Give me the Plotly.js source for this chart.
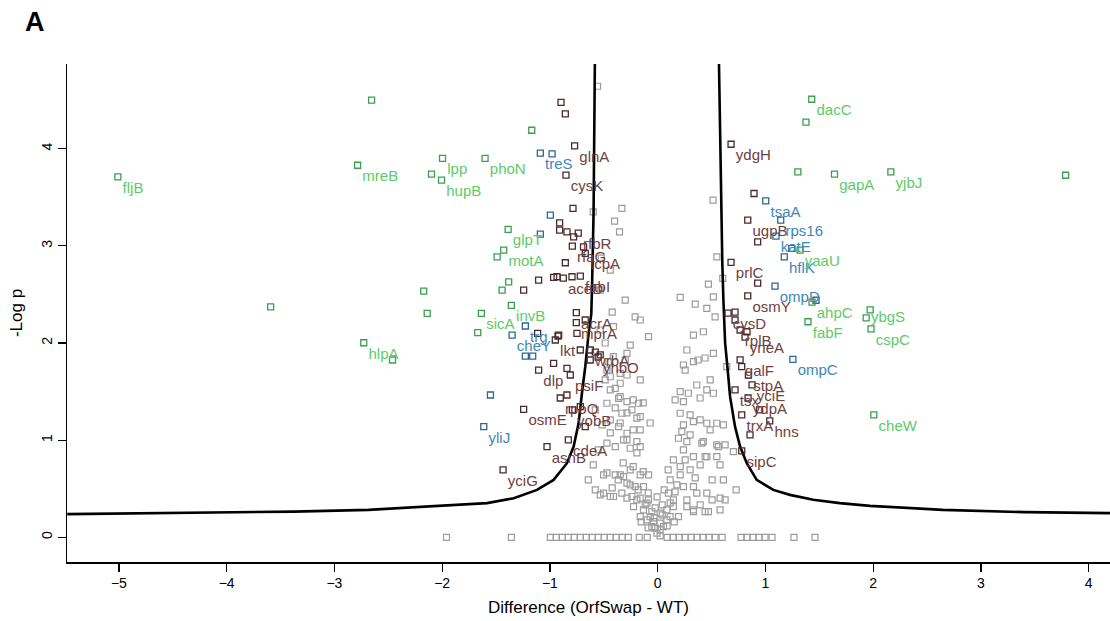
<!DOCTYPE html>
<html>
<head>
<meta charset="utf-8">
<script src="https://cdn.plot.ly/plotly-3.0.1.min.js"></script>
<style>html,body{margin:0;padding:0;background:#fff;}#chart{width:1110px;height:621px;}</style>
</head>
<body>
<div id="chart"></div>
<script>
// ---------- data ----------
const xTickVals = [-5, -4, -3, -2, -1, 0, 1, 2, 3, 4];
const yTickVals = [0, 1, 2, 3, 4];

const greenGenes = ["fljB","mreB","lpp","hupB","phoN","glpT","motA","invB","sicA","hlpA","dacC","gapA","yjbJ","yaaU","ahpC","fabF","ybgS","cspC","cheW","","","","","","","","","","","","","","",""];
const greenX = [-5.01,-2.785,-1.997,-2.006,-1.602,-1.388,-1.429,-1.358,-1.636,-2.728,1.43,1.641,2.164,1.321,1.432,1.395,1.935,1.98,2.006,-2.655,-2.099,-1.169,1.376,1.301,3.786,-3.592,-2.171,-2.139,-1.49,-1.444,-1.383,-1.67,-2.461,1.972];
const greenY = [3.71,3.83,3.90,3.676,3.90,3.17,2.956,2.388,2.305,2.003,4.509,3.738,3.761,2.956,2.421,2.219,2.258,2.145,1.26,4.50,3.738,4.19,4.273,3.761,3.727,2.373,2.535,2.305,2.887,2.545,2.63,2.106,1.825,2.342];

const blueGenes = ["treS","trg","cheY","yliJ","tsaA","rps16","katE","hflK","ompD","ompC","","","","","","","",""];
const blueX = [-1.089,-1.228,-1.351,-1.614,1.003,1.142,1.098,1.175,1.089,1.255,-0.98,-0.996,-1.089,-1.552,-1.228,-1.16,1.47,1.244];
const blueY = [3.954,2.175,2.082,1.139,3.463,3.265,3.10,2.887,2.586,1.832,3.947,3.316,3.121,1.465,1.866,1.866,2.44,2.974];

const darkGenes = ["glnA","cysK","rfbR","rfaG","tcpA","aceD","fabI","acrA","mprA","lkt","dlp","psiF","rpoQ","yobB","cdeA","osmE","asnB","yciG","wrbA","yhbO",
  "ydgH","ugpB","prlC","osmY","cysD","rplB","yneA","galF","stpA","yciE","tsx","ydpA","trxA","hns","sipC",
  "","","","","","","","","","","","","","","","","","","","","","","","","","","","","","","","","","","",""];
const darkX = [-0.771,-0.851,-0.737,-0.792,-0.672,-0.876,-0.718,-0.755,-0.755,-0.95,-1.105,-0.811,-0.904,-0.792,-0.829,-1.244,-1.027,-1.435,-0.626,-0.552,
  0.681,0.836,0.681,0.836,0.653,0.765,0.811,0.765,0.842,0.876,0.718,0.839,0.78,1.04,0.78,
  -0.897,-0.857,-0.786,-0.91,-0.91,-0.842,-0.78,-0.688,-0.857,-0.934,-0.795,-1.105,-0.966,-1.244,-1.114,-0.925,-0.672,-0.919,-0.749,-0.966,-0.842,-0.842,-0.718,-0.672,-0.718,-0.579,-0.626,-0.533,0.894,0.928,0.928,0.718,0.718,0.829,0.78,0.857,0.946];
const darkY = [4.029,3.728,3.131,2.997,2.922,2.668,2.689,2.312,2.209,2.031,1.722,1.671,1.434,1.311,1.003,1.318,0.934,0.694,1.928,1.856,
  4.046,3.265,2.83,2.486,2.308,2.134,2.06,1.826,1.67,1.57,1.517,1.434,1.26,1.198,0.89,
  4.478,4.358,3.385,3.237,3.162,3.144,3.093,2.99,2.826,2.682,2.682,2.648,2.676,2.545,2.10,2.072,2.237,2.082,2.10,1.791,1.74,1.465,1.345,1.139,1.928,1.907,1.825,1.877,3.539,3.042,2.617,2.319,2.237,2.116,1.756,1.054,1.311];

const grayX = [-0.558,-0.332,-0.40,-0.598,-0.354,0.514,0.549,0.471,0.517,0.209,0.348,0.456,0.533,0.604,-0.209,-0.085,-0.41,0.332,0.424,0.271,0.332,0.375,0.44,0.517,0.239,-0.459,-0.285,-0.255,0.255,-0.285,-0.348,-0.44,-0.394,0.363,0.456,0.209,0.285,0.162,0.239,0.517,-0.471,-0.363,-0.285,-0.178,-0.239,-0.332,-0.193,-0.162,-0.285,-0.363,-0.44,0.209,0.301,0.332,0.239,0.456,0.549,0.61,0.224,0.301,0.193,0.271,0.424,0.549,0.626,-0.193,-0.317,-0.394,-0.471,-0.255,-0.162,0.239,0.332,0.44,0.146,0.255,0.209,0.301,-0.502,-0.394,-0.317,-0.255,-0.162,-0.085,-0.285,-0.209,-0.132,0.116,0.178,0.239,0.332,0.61,-0.533,-0.44,-0.332,-0.239,-0.162,-0.085,0.10,0.146,0.271,0.363,0.456,0.579,-0.224,-0.132,-0.054,0.023,0.085,0.146,0.271,0.332,0.44,-0.10,-0.039,0.023,0.085,-0.023,0.023,-0.054,0.054,-0.007,0.023,-0.07,0.116,-0.162,0.193,
  -0.533,-0.487,-0.412,-0.471,-0.348,-0.44,-0.348,-0.227,-0.134,-0.394,-0.285,-0.162,-0.07,-0.348,-0.227,-0.44,-0.285,-0.193,-0.32,-0.227,-0.134,-0.348,-0.471,-0.502,-0.41,-0.285,-0.193,-0.10,
  -0.524,-0.44,-0.533,-0.301,-0.422,-0.162,
  0.487,0.394,0.579,0.471,0.332,0.641,0.41,0.456,0.549,0.564,0.703,
  -0.116,-0.023,0.042,0.116,-0.088,-0.005,0.06,-0.181,-0.255,-0.366,-0.422,0.162,0.209,0.097,0.348,0.394,0.042,-0.032,0.088,-0.088,-0.153,0.153,
  -0.579,-0.516,-0.552,-0.598,-0.644,-0.579,-0.487,-0.301,-0.162,
  0.394,0.487,0.579,0.505,0.394,0.505,0.626,0.728];
const grayY = [4.643,3.385,3.254,3.35,3.144,3.470,2.887,2.607,2.476,2.47,2.401,2.357,2.27,2.665,2.27,2.065,2.168,2.082,2.116,1.928,1.808,1.825,1.846,1.894,1.774,1.808,1.894,1.979,1.722,1.671,1.586,1.653,1.534,1.568,1.517,1.499,1.483,1.414,1.396,1.483,1.38,1.431,1.396,1.38,1.311,1.277,1.226,1.105,1.071,1.139,1.208,1.277,1.26,1.191,1.157,1.174,1.174,1.157,1.088,1.054,1.02,0.985,0.985,0.951,0.951,0.985,1.003,0.934,0.969,0.917,0.934,0.90,0.831,0.831,0.797,0.797,0.728,0.694,0.643,0.643,0.625,0.694,0.643,0.643,0.557,0.522,0.522,0.591,0.54,0.522,0.522,0.591,0.437,0.42,0.454,0.42,0.403,0.386,0.454,0.386,0.386,0.454,0.454,0.403,0.317,0.283,0.265,0.249,0.283,0.317,0.317,0.265,0.265,0.18,0.162,0.146,0.18,0.095,0.077,0.111,0.111,0.043,0.015,0.214,0.214,0.214,0.214,
  2.134,2.0,1.859,1.722,1.688,1.517,1.448,1.414,1.383,1.332,1.28,1.242,1.177,1.177,1.105,1.075,1.003,0.869,0.766,0.728,0.677,0.643,0.663,0.454,0.42,0.403,0.386,0.352,
  2.874,2.751,2.545,2.442,2.319,2.237,
  1.62,1.434,0.283,0.265,0.283,1.756,0.969,0.831,0.831,0.934,0.882,
  0.334,0.303,0.334,0.355,0.458,0.417,0.489,0.489,0.54,0.591,0.509,0.468,0.643,0.694,0.612,0.746,0.231,0.2,0.118,0.098,0.16,0.16,
  1.311,1.157,0.9,0.746,0.591,0.489,1.62,1.825,1.62,
  1.208,1.105,0.746,0.591,0.334,0.386,0.386,0.489];

const zeroRowX = [-1.96,-1.358,-0.996,-0.941,-0.885,-0.829,-0.774,-0.718,-0.663,-0.607,-0.551,-0.496,-0.44,-0.385,-0.329,-0.273,-0.171,-0.097,0.088,0.144,0.199,0.255,0.31,0.366,0.422,0.477,0.533,0.598,0.774,0.829,0.885,0.941,0.996,1.061,1.265,1.46];
const zeroRowY = [0,0,0,0,0,0,0,0,0,0,0,0,0,0,0,0,0,0,0,0,0,0,0,0,0,0,0,0,0,0,0,0,0,0,0,0];

const curveLeftX = [-5.48,-4.80,-3.379,-2.684,-1.79,-1.583,-1.336,-1.12,-0.966,-0.842,-0.78,-0.734,-0.703,-0.672,-0.641,-0.616,-0.61,-0.595,-0.583];
const curveLeftY = [0.239,0.249,0.265,0.283,0.334,0.352,0.403,0.488,0.591,0.763,0.934,1.174,1.483,1.756,2.10,2.30,2.545,3.33,4.872];
const curveRightX = [0.569,0.578,0.588,0.60,0.61,0.618,0.626,0.647,0.672,0.718,0.765,0.827,0.919,1.073,1.228,1.444,1.69,1.97,2.645,3.406,4.2];
const curveRightY = [4.872,4.2,3.47,2.82,2.44,2.2,2.0,1.757,1.448,1.139,0.934,0.763,0.591,0.488,0.437,0.386,0.352,0.324,0.283,0.259,0.249];

// ---------- drawing ----------
const FONT = 'Liberation Sans, Arial, Helvetica, sans-serif';
function pts(x, y, mcolor, name) {
  return {type:'scatter', mode:'markers', x:x, y:y, name:name, hoverinfo:'x+y',
    marker:{symbol:'square-open', size:6, color:mcolor, line:{width:1.2, color:mcolor}}};
}
function labelled(x, y, genes, mcolor, tcolor, name, posFn) {
  const pos = genes.map(function (g) { return posFn ? posFn(g) : 'bottom right'; });
  return {type:'scatter', mode:'markers+text', x:x, y:y, text:genes, name:name,
    textposition:pos, cliponaxis:false,
    textfont:{family:FONT, size:15, color:tcolor},
    marker:{symbol:'square-open', size:6, color:mcolor, line:{width:1.3, color:mcolor}}};
}
const lineStyle = {color:'#000', width:2.6};
const traces = [
  pts(grayX, grayY, '#9c9c9c', 'not significant'),
  pts(zeroRowX, zeroRowY, '#9c9c9c', 'p = 1'),
  {type:'scatter', mode:'lines', x:curveLeftX, y:curveLeftY, line:lineStyle, hoverinfo:'skip', name:'threshold'},
  {type:'scatter', mode:'lines', x:curveRightX, y:curveRightY, line:lineStyle, hoverinfo:'skip', name:'threshold'},
  labelled(darkX, darkY, darkGenes, '#4a2a2a', '#6e4040', 'near'),
  labelled(blueX, blueY, blueGenes, '#2d6890', '#3f86b8', 'mid'),
  labelled(greenX, greenY, greenGenes, '#3d9e50', '#5ccb68', 'far',
    function (g) { return g === 'ybgS' ? 'middle right' : 'bottom right'; })
];

const axisCommon = {
  showgrid:false, zeroline:false, showline:true, linecolor:'#000', linewidth:1.5,
  ticks:'outside', ticklen:8, tickwidth:1.2, tickcolor:'#000',
  tickfont:{family:FONT, size:14, color:'#000'}, mirror:false
};
const layout = {
  width:1110, height:621,
  margin:{l:67, r:0, t:64, b:59},
  paper_bgcolor:'#fff', plot_bgcolor:'#fff',
  showlegend:false,
  font:{family:FONT, color:'#000'},
  xaxis:Object.assign({}, axisCommon, {
    range:[-5.482, 4.198], tickmode:'array', tickvals:xTickVals,
    title:{text:'Difference (OrfSwap - WT)', font:{family:FONT, size:17, color:'#000'}, standoff:11}
  }),
  yaxis:Object.assign({}, axisCommon, {
    range:[-0.254, 4.872], tickmode:'array', tickvals:yTickVals, tickangle:-90,
    title:{text:'-Log p', font:{family:FONT, size:17, color:'#000'}, standoff:12}
  }),
  annotations:[{text:'<b>A</b>', xref:'paper', yref:'paper', x:-0.0307, y:1.084,
    xanchor:'center', yanchor:'middle', showarrow:false, font:{family:FONT, size:27, color:'#000'}}]
};
Plotly.newPlot('chart', traces, layout, {displayModeBar:false, staticPlot:true});
</script>
</body>
</html>
